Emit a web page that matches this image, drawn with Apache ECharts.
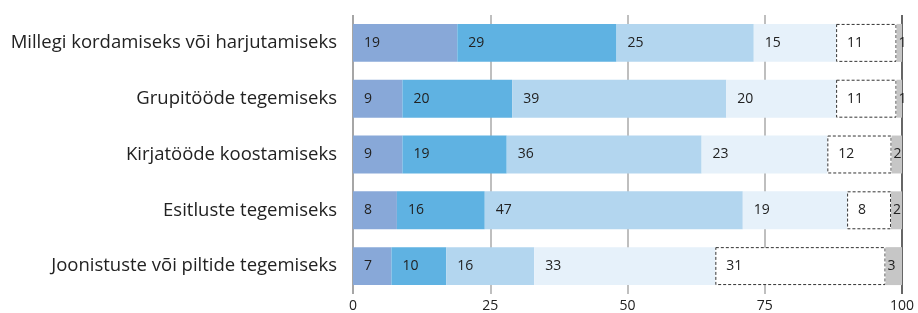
<!DOCTYPE html>
<html>
<head>
<meta charset="utf-8">
<script src="https://cdn.jsdelivr.net/npm/echarts@6/dist/echarts.min.js"></script>
<style>
  html, body { margin: 0; padding: 0; background: #fff; }
  #main { width: 918px; height: 313px; }
</style>
</head>
<body>
<div id="main"></div>
<script>
// categories, top to bottom
var categories = [
  'Millegi kordamiseks või harjutamiseks',
  'Grupitööde tegemiseks',
  'Kirjatööde koostamiseks',
  'Esitluste tegemiseks',
  'Joonistuste või piltide tegemiseks'
]
// shares in %, labels show them rounded (row 3 is not rounded so it sums to 100)
var s1 = [19, 9, 9, 8, 7]
var s2 = [29, 20, 19, 16, 10]
var s3 = [25, 39, 35.5, 47, 16]
var s4 = [15, 20, 22.9, 19, 33]
var s5 = [11, 11, 11.7, 8, 31]
var s6 = [1, 1, 1.9, 2, 3]
var xTicks = [0, 25, 50, 75, 100]

var colors = ['#88a8d8', '#5fb2e2', '#b3d6ef', '#e6f1fa', '#ffffff', '#c6c6c6']

var chart = echarts.init(document.getElementById('main'))

function mkSeries(name, data, color, extra) {
  var s = {
    name: name,
    type: 'bar',
    stack: 'all',
    barCategoryGap: '32%',
    data: data.slice().reverse(),
    itemStyle: { color: color },
    label: {
      show: true,
      position: 'insideLeft',
      distance: 11,
      color: '#222',
      fontSize: 14,
      fontFamily: 'Open Sans',
      formatter: function (p) { return Math.round(p.value) }
    },
    emphasis: { disabled: true }
  }
  return Object.assign(s, extra || {})
}

chart.setOption({
  animation: false,
  grid: {
    left: 353,
    right: 16,
    top: 15,
    bottom: 18
  },
  xAxis: {
    type: 'value',
    min: 0,
    max: 100,
    interval: 25,
    axisLine: { show: false },
    axisTick: { show: false },
    axisLabel: {
      margin: 5,
      color: '#222',
      fontSize: 14,
      fontFamily: 'Open Sans',
      formatter: function (v) { return xTicks.indexOf(v) >= 0 ? String(v) : '' }
    },
    splitLine: {
      show: true,
      lineStyle: { color: ['#888', '#aaa', '#aaa', '#aaa', '#333'], width: 1.5 }
    }
  },
  yAxis: {
    type: 'category',
    data: categories.slice().reverse(),
    axisLine: { show: false },
    axisTick: { show: false },
    axisLabel: {
      margin: 16,
      color: '#222',
      fontSize: 18.5,
      fontFamily: 'Open Sans'
    }
  },
  series: [
    mkSeries('1', s1, colors[0]),
    mkSeries('2', s2, colors[1]),
    mkSeries('3', s3, colors[2]),
    mkSeries('4', s4, colors[3]),
    mkSeries('5', s5, colors[4], {
      itemStyle: {
        color: '#fff',
        borderColor: '#333',
        borderWidth: 1,
        borderType: [3, 2]
      }
    }),
    mkSeries('6', s6, colors[5])
  ]
})
// gray series label sits close to the bar start
chart.setOption({
  series: [{}, {}, {}, {}, {}, { label: { distance: 2 } }]
})
</script>
</body>
</html>
